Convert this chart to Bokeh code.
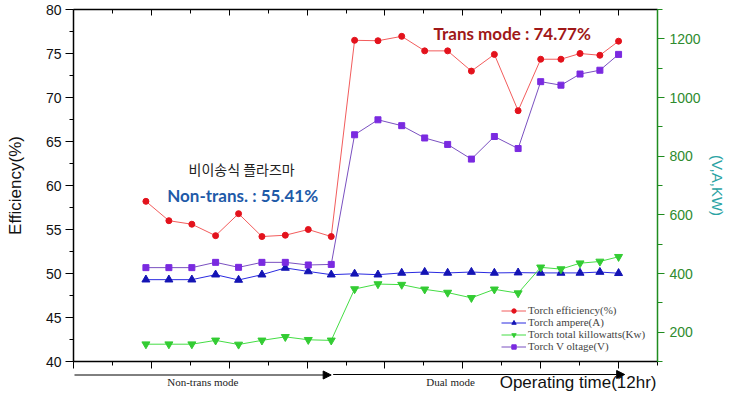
from bokeh.plotting import figure
from bokeh.layouts import column
from bokeh.models import (Range1d, LinearAxis, FixedTicker, Label, Arrow, NormalHead,
                          Legend, LegendItem, ColumnDataSource, CustomJSTickFormatter)
from bokeh.embed import file_html
from bokeh.resources import INLINE

# ---------------- data ----------------
time_x = [1.86, 2.45, 3.04, 3.65, 4.24, 4.84, 5.44, 6.03, 6.62,
          7.22, 7.82, 8.43, 9.02, 9.61, 10.22, 10.81, 11.42, 12.00,
          12.52, 13.01, 13.52, 14.00]
efficiency = [58.2, 56.0, 55.6, 54.3, 56.8, 54.2, 54.35, 55.0, 54.2,
              76.5, 76.45, 76.95, 75.3, 75.3, 73.0, 74.9, 68.5, 74.35,
              74.35, 75.0, 74.8, 76.4]
ampere = [379, 379, 379, 396, 378, 396, 419, 407, 396,
          399, 396, 402, 405, 402, 405, 402, 403, 402,
          402, 402, 405, 401]
kilowatts = [159, 159, 159, 172, 158, 172, 184, 174, 172,
             347, 364, 362, 346, 335, 317, 346, 333, 421,
             415, 435, 441, 457]
voltage = [420, 420, 420, 438, 421, 438, 438, 429, 431,
           873, 924, 904, 862, 840, 790, 867, 826, 1054,
           1042, 1080, 1093, 1147]
left_ticks = [40, 45, 50, 55, 60, 65, 70, 75, 80]
right_ticks = [200, 400, 600, 800, 1000, 1200]
x_ticks = [0, 2, 4, 6, 8, 10, 12, 14]
series_names = ["Torch efficiency(%)", "Torch ampere(A)",
                "Torch total killowatts(Kw)", "Torch V oltage(V)"]

src = ColumnDataSource(dict(x=time_x, eff=efficiency, amp=ampere,
                            kw=kilowatts, volt=voltage))

# ---------------- layout constants (canvas pixels) ----------------
W = 728
H1, H2 = 369, 23
FL, FR, FT, FB = 73, 660, 9, 361       # frame edges
X0, X1, Y0, Y1 = 0, 15, 40, 80

def dx(px):  # canvas px -> data x
    return X0 + (px - FL) / (FR - FL) * (X1 - X0)

def dy(py):  # canvas px -> data y
    return Y0 + (FB - py) / (FB - FT) * (Y1 - Y0)

p = figure(width=W, height=H1, output_backend="svg", toolbar_location=None,
           x_range=Range1d(X0, X1), y_range=Range1d(Y0, Y1),
           min_border_left=FL, min_border_right=W - FR,
           min_border_top=FT, min_border_bottom=H1 - FB)
p.outline_line_color = None
p.xgrid.visible = False
p.ygrid.visible = False
p.extra_y_ranges = {"right": Range1d(100, 1300)}

# left axis
ya = p.yaxis[0]
ya.ticker = FixedTicker(ticks=left_ticks, minor_ticks=[t + 2.5 for t in left_ticks[:-1]])
ya.axis_label = "Efficiency(%)"
ya.axis_label_text_font = "Liberation Sans"
ya.axis_label_text_font_size = "17px"
ya.axis_label_text_font_style = "normal"
ya.axis_label_text_color = "#111111"
ya.axis_label_standoff = 18
ya.major_label_text_font = "Liberation Sans"
ya.major_label_text_font_size = "14px"
ya.major_label_text_color = "#111111"
ya.major_label_standoff = 4
ya.axis_line_width = 1.5
ya.major_tick_in = 0
ya.major_tick_out = 8
ya.minor_tick_in = 0
ya.minor_tick_out = 4

# bottom axis
xa = p.xaxis[0]
xa.ticker = FixedTicker(ticks=x_ticks, minor_ticks=[t + 1 for t in x_ticks])
xa.formatter = CustomJSTickFormatter(code="return ''")
xa.major_label_standoff = 0
xa.major_tick_in = 0
xa.major_tick_out = 7
xa.minor_tick_in = 0
xa.minor_tick_out = 4
xa.axis_line_width = 1.5

# top axis (ticks inward)
top = LinearAxis(ticker=FixedTicker(ticks=x_ticks, minor_ticks=[t + 1 for t in x_ticks]),
                 formatter=CustomJSTickFormatter(code="return ''"), major_label_standoff=0,
                 major_tick_in=6, major_tick_out=0, minor_tick_in=4, minor_tick_out=0,
                 axis_line_width=1.5, axis_line_color="black")
p.add_layout(top, "above")

# right axis
green = "#1f8c1f"
ra = LinearAxis(y_range_name="right",
                ticker=FixedTicker(ticks=right_ticks,
                                   minor_ticks=[t + 100 for t in right_ticks[:-1]] + [100, 1300]),
                axis_line_color=green, axis_line_width=1.5,
                major_tick_line_color=green, minor_tick_line_color=green,
                major_tick_in=0, major_tick_out=7, minor_tick_in=0, minor_tick_out=5,
                major_label_text_color="#2e8b2e", major_label_text_font="Liberation Sans",
                major_label_text_font_size="14px", major_label_standoff=5,
                axis_label="(V,A,KW)", axis_label_text_color="#2aa3a3",
                axis_label_text_font="Liberation Sans", axis_label_text_font_size="15px",
                axis_label_text_font_style="normal", axis_label_standoff=5)
p.add_layout(ra, "right")

# series
r_eff_l = p.line("x", "eff", source=src, line_color="#f25c5c", line_width=1)
r_eff_m = p.scatter("x", "eff", source=src, marker="circle", size=6,
                    fill_color="#e3121c", line_color="#e3121c")
r_amp_l = p.line("x", "amp", source=src, y_range_name="right", line_color="#2a2ae0", line_width=1)
r_amp_m = p.scatter("x", "amp", source=src, y_range_name="right", marker="triangle", size=8,
                    fill_color="#1414b4", line_color="#1414b4")
r_kw_l = p.line("x", "kw", source=src, y_range_name="right", line_color="#44dd44", line_width=1)
r_kw_m = p.scatter("x", "kw", source=src, y_range_name="right", marker="inverted_triangle", size=8,
                   fill_color="#33cc33", line_color="#33cc33")
r_v_l = p.line("x", "volt", source=src, y_range_name="right", line_color="#7a50c0", line_width=1)
r_v_m = p.scatter("x", "volt", source=src, y_range_name="right", marker="square", size=6,
                  fill_color="#7a2ae0", line_color="#7a2ae0")

legend = Legend(items=[
    LegendItem(label=series_names[0], renderers=[r_eff_l, r_eff_m]),
    LegendItem(label=series_names[1], renderers=[r_amp_l, r_amp_m]),
    LegendItem(label=series_names[2], renderers=[r_kw_l, r_kw_m]),
    LegendItem(label=series_names[3], renderers=[r_v_l, r_v_m]),
], location=(428, 9), border_line_color=None, background_fill_alpha=0,
   label_text_font="Liberation Serif", label_text_font_size="11px",
   glyph_width=25, glyph_height=11, label_height=11, label_standoff=2,
   spacing=0, padding=2, margin=0)
p.add_layout(legend, "center")

# annotations inside the plot
p.add_layout(Label(x=dx(514), y=dy(33), text="Trans mode : 74.77%", text_align="center",
                   text_baseline="middle", text_font="Lato", text_font_style="bold",
                   text_font_size="17px", text_color="#a01818"))
p.add_layout(Label(x=dx(243), y=dy(195), text="Non-trans. : 55.41%", text_align="center",
                   text_baseline="middle", text_font="Lato", text_font_style="bold",
                   text_font_size="17px", text_color="#1e5aa8"))
p.add_layout(Label(x=dx(242), y=dy(168), text="비이송식 플라즈마", text_align="center",
                   text_baseline="middle", text_font="Noto Sans CJK KR",
                   text_font_size="14px", text_color="#222222"))

# ---------------- strip below the axis: mode arrows and axis title ----------------
# (its frame is aligned with the main plot's frame by the column layout)
q = figure(width=W, height=H2, output_backend="svg", toolbar_location=None,
           x_range=Range1d(X0, X1), y_range=Range1d(H1 + H2, H1),
           x_axis_type=None, y_axis_type=None,
           min_border_left=FL, min_border_right=W - FR, min_border_top=0, min_border_bottom=0)
q.outline_line_color = None
q.xgrid.visible = False
q.ygrid.visible = False

q.add_layout(Arrow(end=NormalHead(size=8, fill_color="black", line_color="black"),
                   x_start=dx(74), y_start=374.5, x_end=dx(332), y_end=374.5,
                   line_color="black", line_width=1))
q.add_layout(Arrow(end=NormalHead(size=8, fill_color="black", line_color="black"),
                   x_start=dx(334), y_start=374, x_end=dx(627), y_end=374,
                   line_color="black", line_width=1))
q.add_layout(Label(x=dx(203), y=381, text="Non-trans mode", text_align="center",
                   text_baseline="middle", text_font="Liberation Serif",
                   text_font_size="11px", text_color="#222222"))
q.add_layout(Label(x=dx(452), y=381, text="Dual mode", text_align="center",
                   text_baseline="middle", text_font="Liberation Serif",
                   text_font_size="11px", text_color="#222222"))
q.add_layout(Label(x=dx(659), y=382, text="Operating time(12hr)", text_align="right",
                   text_baseline="middle", text_font="Liberation Sans",
                   text_font_size="17px", text_color="#111111"))

layout = column(p, q, spacing=0)
open("out.html", "w").write(file_html(layout, INLINE))
